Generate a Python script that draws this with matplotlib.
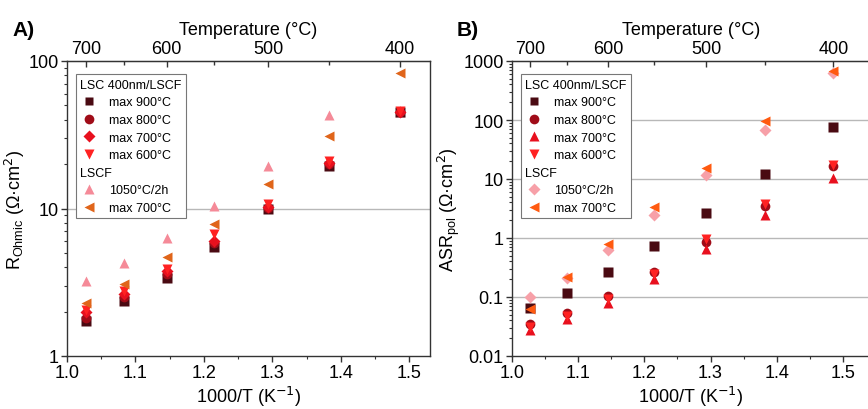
import numpy as np
import matplotlib
matplotlib.use("Agg")
import matplotlib.pyplot as plt
from matplotlib.lines import Line2D
from matplotlib.ticker import FixedLocator, NullFormatter, LogLocator

plt.rcParams["font.family"] = ["Liberation Sans", "DejaVu Sans"]

# measurement temperatures (degC) and inverse temperature
temps = [700, 650, 600, 550, 500, 450, 400]
inv_t = [1000.0 / (t + 273.15) for t in temps]

# panel A: ohmic resistance (Ohm cm2)
ohm_900 = [1.72, 2.35, 3.4, 5.5, 9.9, 19.5, 45]
ohm_800 = [1.82, 2.5, 3.6, 5.8, 10.1, 20.0, 45]
ohm_700 = [2.0, 2.65, 3.75, 6.0, 10.2, 20.2, 45]
ohm_600 = [2.05, 2.75, 3.9, 6.7, 10.8, 21.0, 46]
ohm_lscf_1050 = [3.2, 4.25, 6.3, 10.4, 19.4, 43, 45]
ohm_lscf_700 = [2.3, 3.1, 4.7, 7.8, 14.7, 31, 83]

# panel B: polarisation resistance (Ohm cm2)
pol_900 = [0.065, 0.117, 0.265, 0.73, 2.7, 12.0, 76]
pol_800 = [0.035, 0.054, 0.105, 0.27, 0.85, 3.5, 16.5]
pol_700 = [0.028, 0.043, 0.08, 0.2, 0.65, 2.45, 10.5]
pol_600 = [0.031, 0.048, 0.092, 0.25, 0.95, 3.8, 17.5]
pol_lscf_1050 = [0.1, 0.21, 0.63, 2.45, 11.5, 68, 620]
pol_lscf_700 = [0.063, 0.22, 0.79, 3.35, 15.5, 95, 690]

top_ticks = [700, 600, 500, 400]
top_minor = [650, 550, 450]

c_900 = "#4a0a12"
c_800 = "#a00c18"
c_700 = "#e8101e"
c_600 = "#ff2222"
c_pink_tri = "#f58a98"
c_pink_dia = "#f7a0a8"
c_orange_a = "#e0651a"
c_orange_b = "#ff5a10"

fig = plt.figure(figsize=(8.68, 4.10), dpi=100)
ax_a = fig.add_axes([67 / 868, 53 / 410, 363 / 868, 295 / 410])
ax_b = fig.add_axes([512 / 868, 53 / 410, 358 / 868, 295 / 410])

fs = 13


def style_axes(ax, xmax, ylim, ylabel, grid_vals):
    ax.set_yscale("log")
    ax.set_xlim(1.0, xmax)
    ax.set_ylim(*ylim)
    for v in grid_vals:
        ax.axhline(v, color="#b8b8b8", lw=1.0, zorder=0)
    ax.set_xticks([1.0, 1.1, 1.2, 1.3, 1.4, 1.5])
    ax.set_xticks(np.arange(1.05, xmax, 0.1), minor=True)
    ax.set_xticklabels(["1.0", "1.1", "1.2", "1.3", "1.4", "1.5"])
    ax.yaxis.set_minor_locator(LogLocator(base=10, subs=np.arange(2, 10)))
    ax.yaxis.set_minor_formatter(NullFormatter())
    ax.tick_params(axis="both", which="major", labelsize=fs, length=4,
                   width=1, color="#333333", direction="out", pad=2)
    ax.tick_params(axis="both", which="minor", length=2, width=0.8,
                   color="#333333", direction="out")
    for s in ax.spines.values():
        s.set_color("#333333")
        s.set_linewidth(1.0)
    ax.set_xlabel("1000/T (K$^{-1}$)", fontsize=fs, labelpad=2)
    ax.set_ylabel(ylabel, fontsize=fs, labelpad=1)

    top = ax.secondary_xaxis("top")
    top.xaxis.set_major_locator(FixedLocator([1000.0 / (t + 273.15) for t in top_ticks]))
    top.xaxis.set_minor_locator(FixedLocator([1000.0 / (t + 273.15) for t in top_minor]))
    top.set_xticklabels([str(t) for t in top_ticks])
    top.tick_params(axis="x", which="major", labelsize=fs, length=4, width=1,
                    color="#333333", direction="in", pad=3)
    top.tick_params(axis="x", which="minor", length=3, width=1,
                    color="#333333", direction="in")
    top.spines["top"].set_color("#333333")
    top.set_xlabel("Temperature (°C)", fontsize=fs, labelpad=4)


style_axes(ax_a, 1.53, (1, 100), "R$_{\\mathregular{Ohmic}}$ (Ω·cm$^2$)", [10])
style_axes(ax_b, 1.541, (0.01, 1000), "ASR$_{\\mathregular{pol}}$ (Ω·cm$^2$)",
           [0.1, 1, 10, 100])
ax_a.set_yticks([1, 10, 100])
ax_a.set_yticklabels(["1", "10", "100"])
ax_b.set_yticks([0.01, 0.1, 1, 10, 100, 1000])
ax_b.set_yticklabels(["0.01", "0.1", "1", "10", "100", "1000"])

ms = 7
# panel A series
ax_a.plot(inv_t, ohm_lscf_1050, "^", color=c_pink_tri, ms=ms, mec="none", zorder=2)
ax_a.plot(inv_t, ohm_900, "s", color=c_900, ms=ms - 0.5, mec="none", zorder=3)
ax_a.plot(inv_t, ohm_800, "o", color=c_800, ms=ms, mec="none", zorder=3)
ax_a.plot(inv_t, ohm_700, "D", color=c_700, ms=ms - 1, mec="none", zorder=3)
ax_a.plot(inv_t, ohm_600, "v", color=c_600, ms=ms, mec="none", zorder=3)
ax_a.plot(inv_t, ohm_lscf_700, "<", color=c_orange_a, ms=ms, mec="none", zorder=3)

# panel B series
ax_b.plot(inv_t, pol_900, "s", color=c_900, ms=ms - 0.5, mec="none", zorder=3)
ax_b.plot(inv_t, pol_800, "o", color=c_800, ms=ms, mec="none", zorder=3)
ax_b.plot(inv_t, pol_700, "^", color=c_700, ms=ms, mec="none", zorder=3)
ax_b.plot(inv_t, pol_600, "v", color=c_600, ms=ms, mec="none", zorder=3)
ax_b.plot(inv_t, pol_lscf_1050, "D", color=c_pink_dia, ms=ms - 1, mec="none", zorder=3)
ax_b.plot(inv_t, pol_lscf_700, "<", color=c_orange_b, ms=ms, mec="none", zorder=3)


def make_legend(ax, entries):
    handles = []
    labels = []
    headers = []
    for i, (marker, color, label) in enumerate(entries):
        if marker is None:
            handles.append(Line2D([], [], ls="none"))
            headers.append(i)
        else:
            handles.append(Line2D([], [], ls="none", marker=marker, color=color,
                                  mec="none", ms=ms - (1 if marker in ("D", "s") else 0)))
        labels.append(label)
    leg = ax.legend(handles, labels, loc="upper left", bbox_to_anchor=(0.025, 0.955),
                    fontsize=9, frameon=True, fancybox=False, edgecolor="#777777",
                    framealpha=1, handlelength=1.4, handletextpad=0.9,
                    labelspacing=0.45, borderpad=0.35, borderaxespad=0)
    leg.get_frame().set_linewidth(0.8)
    col = leg._legend_handle_box.get_children()[0]
    rows = col.get_children()
    for i in headers:
        rows[i]._children = [rows[i]._children[1]]
    return leg


make_legend(ax_a, [
    (None, None, "LSC 400nm/LSCF"),
    ("s", c_900, "max 900°C"),
    ("o", c_800, "max 800°C"),
    ("D", c_700, "max 700°C"),
    ("v", c_600, "max 600°C"),
    (None, None, "LSCF"),
    ("^", c_pink_tri, "1050°C/2h"),
    ("<", c_orange_a, "max 700°C"),
])
make_legend(ax_b, [
    (None, None, "LSC 400nm/LSCF"),
    ("s", c_900, "max 900°C"),
    ("o", c_800, "max 800°C"),
    ("^", c_700, "max 700°C"),
    ("v", c_600, "max 600°C"),
    (None, None, "LSCF"),
    ("D", c_pink_dia, "1050°C/2h"),
    ("<", c_orange_b, "max 700°C"),
])

fig.text(12 / 868, 1 - 30 / 410, "A)", fontsize=15, fontweight="bold", va="center")
fig.text(457 / 868, 1 - 30 / 410, "B)", fontsize=15, fontweight="bold", va="center")

fig.savefig("out.png", dpi=100)
